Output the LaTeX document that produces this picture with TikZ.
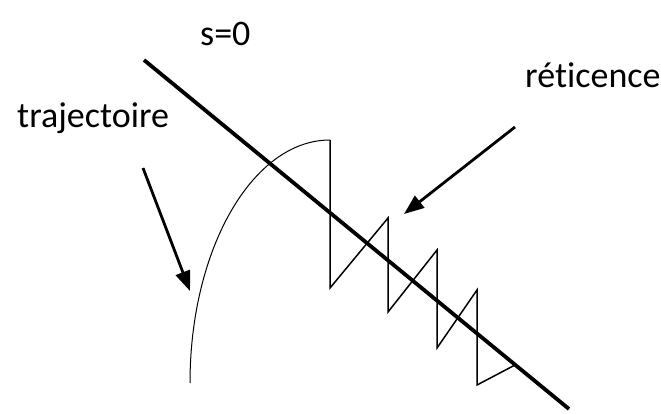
\documentclass[tikz,border=0pt]{standalone}
\usepackage{fontspec}
\setmainfont{Carlito}[Ligatures=NoCommon]
\usetikzlibrary{arrows.meta}

\begin{document}
\begin{tikzpicture}[
    x=1pt, y=-1pt,
    label/.style={font=\fontsize{36}{40}\selectfont, inner sep=0pt, anchor=base west},
    surface/.style={line width=3.8pt},
    traj/.style={line width=1pt},
    chatter/.style={line width=1.5pt, line join=miter},
    pointer/.style={-{Triangle[length=20pt, width=15pt]}, line width=2.8pt},
]
    \useasboundingbox (0, 0) rectangle (661, 413);

    % sliding surface s=0
    \coordinate (sA) at (144, 60);
    \coordinate (sB) at (569, 409);
    \draw[surface] (sA) -- (sB);

    % trajectory reaching the surface
    \draw[traj] (190, 383) arc[start angle=180, end angle=270,
                               x radius=140, y radius=243];
    \draw[chatter] (330, 140) -- (330, 288) -- (388, 218) -- (388, 312)
        -- (437, 250) -- (437, 348) -- (477, 290) -- (477, 385) -- (515, 365);

    % labels
    \node[label] (s0) at (200, 45) {s=0};
    \node[label] (traj) at (17, 127) {trajectoire};
    \node[label] (ret) at (525, 87) {réticence};

    \coordinate (trajFrom) at (143, 168);
    \coordinate (trajTo) at (190, 291);
    \coordinate (retFrom) at (515, 127);
    \coordinate (retTo) at (404, 214);
    \draw[pointer] (trajFrom) -- (trajTo);
    \draw[pointer] (retFrom) -- (retTo);
\end{tikzpicture}
\end{document}
